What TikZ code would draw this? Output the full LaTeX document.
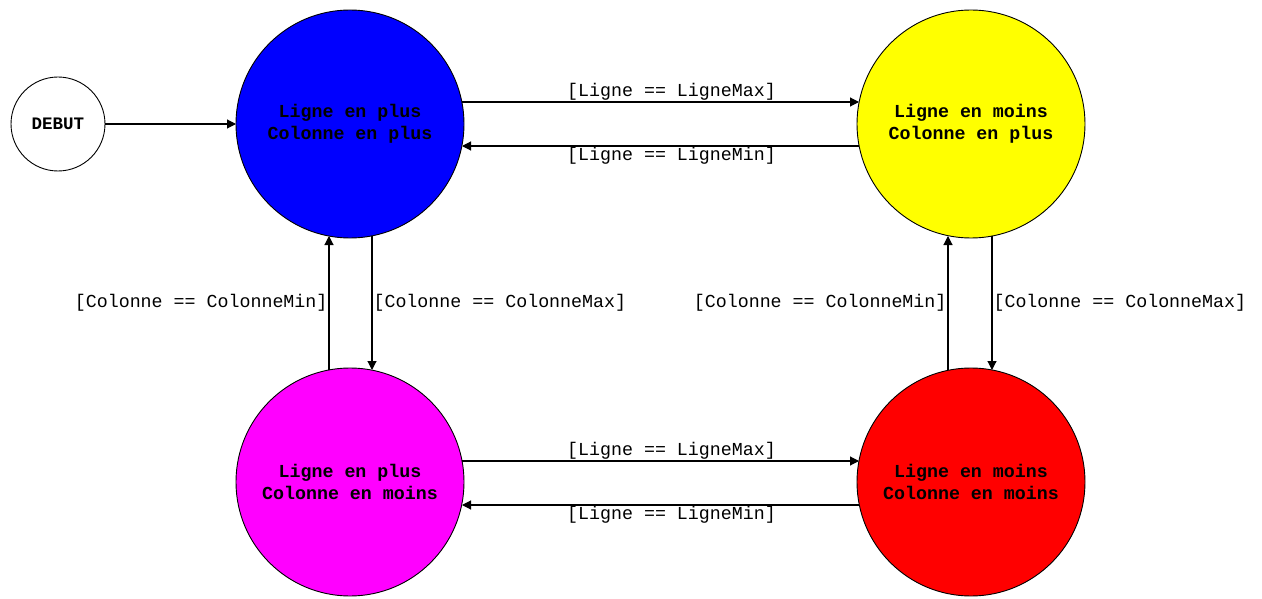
\documentclass[tikz,border=0pt]{standalone}
\usepackage{fontspec}
\setmonofont{Liberation Mono}
\usetikzlibrary{arrows.meta,calc}
\begin{document}
\begin{tikzpicture}[x=1pt,y=-1pt,
  state/.style={circle,draw=black,line width=0.9pt,minimum size=228pt,inner sep=0pt,outer sep=0pt,align=center,
    font=\ttfamily\bfseries\fontsize{18.3}{22}\selectfont},
  startst/.style={circle,draw=black,line width=0.9pt,minimum size=94pt,inner sep=0pt,outer sep=0pt,fill=white,
    font=\ttfamily\bfseries\fontsize{17.5}{20}\selectfont},
  conn/.style={line width=1.1pt,-{Triangle[length=9pt,width=9pt]}},
  lbl/.style={font=\ttfamily\fontsize{18.3}{20}\selectfont,inner sep=1pt},
  hlbl/.style={lbl,xshift=11pt}]
\useasboundingbox (0,0) rectangle (1262,599);
\definecolor{cblue}{RGB}{0,0,255}
\definecolor{cyel}{RGB}{255,255,0}
\definecolor{cmag}{RGB}{255,0,255}
\definecolor{cred}{RGB}{255,0,0}
\node[startst] (debut) at (58,124) {DEBUT};
\node[state,fill=cblue] (b) at (350,124) {Ligne en plus\\Colonne en plus};
\node[state,fill=cyel] (y) at (971,124) {Ligne en moins\\Colonne en plus};
\node[state,fill=cmag] (m) at (350,482) {Ligne en plus\\Colonne en moins};
\node[state,fill=cred] (r) at (971,482) {Ligne en moins\\Colonne en moins};
\draw[conn] (debut) -- (b);
\draw[conn] ($(b.center)+(112,-22)$) -- node[hlbl,anchor=south] {[Ligne == LigneMax]} ($(y.center)+(-112,-22)$);
\draw[conn] ($(y.center)+(-112,22)$) -- node[hlbl,anchor=north] {[Ligne == LigneMin]} ($(b.center)+(112,22)$);
\draw[conn] ($(m.center)+(112,-21)$) -- node[hlbl,anchor=south] {[Ligne == LigneMax]} ($(r.center)+(-112,-21)$);
\draw[conn] ($(r.center)+(-112,23)$) -- node[hlbl,anchor=north] {[Ligne == LigneMin]} ($(m.center)+(112,23)$);
\draw[conn] ($(b.center)+(22,112)$) -- node[lbl,anchor=west] {[Colonne == ColonneMax]} ($(m.center)+(22,-112)$);
\draw[conn] ($(m.center)+(-21,-112)$) -- node[lbl,anchor=east] {[Colonne == ColonneMin]} ($(b.center)+(-21,112)$);
\draw[conn] ($(y.center)+(21,112)$) -- node[lbl,anchor=west] {[Colonne == ColonneMax]} ($(r.center)+(21,-112)$);
\draw[conn] ($(r.center)+(-23,-112)$) -- node[lbl,anchor=east] {[Colonne == ColonneMin]} ($(y.center)+(-23,112)$);
\end{tikzpicture}
\end{document}
